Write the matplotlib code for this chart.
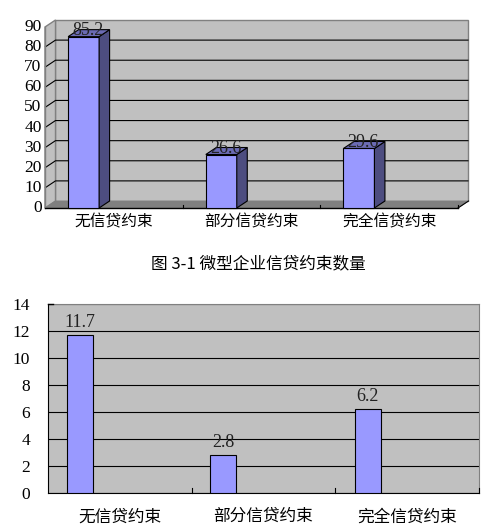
import matplotlib
matplotlib.use('Agg')
import matplotlib.pyplot as plt
from matplotlib.patches import Polygon, Rectangle

plt.rcParams['font.family'] = ['Liberation Serif', 'Noto Sans CJK SC', 'DejaVu Sans']

categories = ['无信贷约束', '部分信贷约束', '完全信贷约束']
top_values = [85.2, 26.6, 29.6]
top_labels = ['85.2', '26.6', '29.6']
top_ticks = [0, 10, 20, 30, 40, 50, 60, 70, 80, 90]
bottom_values = [11.7, 2.8, 6.2]
bottom_labels = ['11.7', '2.8', '6.2']
bottom_ticks = [0, 2, 4, 6, 8, 10, 12, 14]
caption = '图 3-1 微型企业信贷约束数量'

W, H = 489, 530
GREY = '#c0c0c0'
BAR = '#9999ff'
LW = 0.8


def px_axes(fig, left, top, right, bottom):
    return fig.add_axes([left / W, 1 - bottom / H, (right - left) / W, (bottom - top) / H])


fig = plt.figure(figsize=(W / 100, H / 100), dpi=100)

# top chart, axes = the front plane, the walls are pushed back by a pixel offset
ax = px_axes(fig, 45, 27, 458, 208)
ax.set_xlim(0, 3)
ax.set_ylim(0, 90)
ax.axis('off')
dx = 3 / 413 * 10.5
dy = 90 / 181 * 7

ax.add_patch(Polygon([(dx, dy), (3 + dx, dy), (3 + dx, 90 + dy), (dx, 90 + dy)],
                     fc=GREY, ec='#808080', lw=1, clip_on=False, zorder=1))
ax.add_patch(Polygon([(0, 0), (dx, dy), (dx, 90 + dy), (0, 90)],
                     fc=GREY, ec='#808080', lw=1, clip_on=False, zorder=1))
ax.add_patch(Polygon([(0, 0), (3, 0), (3 + dx, dy), (dx, dy)],
                     fc='#808080', ec='#808080', lw=0.5, clip_on=False, zorder=1))
for t in top_ticks[1:-1]:
    ax.plot([0, dx, 3 + dx], [t, t + dy, t + dy], color='black', lw=LW, clip_on=False, zorder=2,
            solid_capstyle='butt')
ax.plot([0, 3], [0, 0], color='black', lw=1, clip_on=False, zorder=3)
ax.plot([0, 0], [0, 90], color='#808080', lw=1, clip_on=False, zorder=2)
ax.plot([3, 3 + dx], [0, dy], color='black', lw=LW, clip_on=False, zorder=3)
for t in top_ticks:
    ax.text(-0.025, t, str(t), ha='right', va='center', fontsize=12.5, color='black', clip_on=False)
for x in [1, 2, 3]:
    ax.plot([x, x], [0, 1.5], color='black', lw=LW, clip_on=False, zorder=3)

bar_w = 0.225
for i, v in enumerate(top_values):
    x0 = i + 0.168
    x1 = x0 + bar_w
    ax.add_patch(Rectangle((x0, 0), bar_w, v, fc=BAR, ec='black', lw=LW, zorder=5, clip_on=False))
    ax.add_patch(Polygon([(x1, 0), (x1 + dx, dy), (x1 + dx, v + dy), (x1, v)],
                         fc='#4d4d80', ec='black', lw=LW, zorder=5, clip_on=False))
    ax.add_patch(Polygon([(x0, v), (x1, v), (x1 + dx, v + dy), (x0 + dx, v + dy)],
                         fc='#6b6bb3', ec='black', lw=LW, zorder=5, clip_on=False))
    ax.text(x0 + bar_w / 2 + 0.032, v + 2.9, top_labels[i], ha='center', va='center', fontsize=13,
            color='#222222', zorder=6, clip_on=False)
    ax.text(i + 0.5, -6.8, categories[i], ha='center', va='center', fontsize=11.3,
            family=['Noto Sans CJK SC'], color='black', clip_on=False)

fig.text(258 / W, 1 - 264 / H, caption, ha='center', va='center', fontsize=12,
         family=['Noto Sans CJK SC'], color='black')

# bottom chart, flat
ax2 = px_axes(fig, 48, 304, 479, 493)
ax2.set_facecolor(GREY)
ax2.set_xlim(0, 3)
ax2.set_ylim(0, 14)
ax2.set_axisbelow(True)
ax2.yaxis.grid(True, color='black', lw=LW)
ax2.set_yticks(bottom_ticks)
ax2.set_xticks([0.5, 1.5, 2.5])
ax2.set_xticklabels(categories, family=['Noto Sans CJK SC'], fontsize=12)
ax2.tick_params(axis='x', length=0, pad=11)
ax2.tick_params(axis='y', length=0, pad=13, labelsize=12.5)
for s in ['top', 'right']:
    ax2.spines[s].set_color('#808080')
for s in ['left', 'bottom']:
    ax2.spines[s].set_color('black')
for x in [1, 2, 3]:
    ax2.plot([x, x], [0, 0.35], color='black', lw=LW, zorder=4, clip_on=False)
ax2.plot([0, 0.035], [14, 14], color='black', lw=1, zorder=4, clip_on=False)
bar_x = [0.225, 1.22, 2.225]
ax2.bar(bar_x, bottom_values, width=0.181, color=BAR, edgecolor='black', lw=LW, zorder=3)
for x, v, lab in zip(bar_x, bottom_values, bottom_labels):
    ax2.text(x, v + 0.93, lab, ha='center', va='center', fontsize=13, color='#222222')

fig.savefig('out.png', dpi=100)
